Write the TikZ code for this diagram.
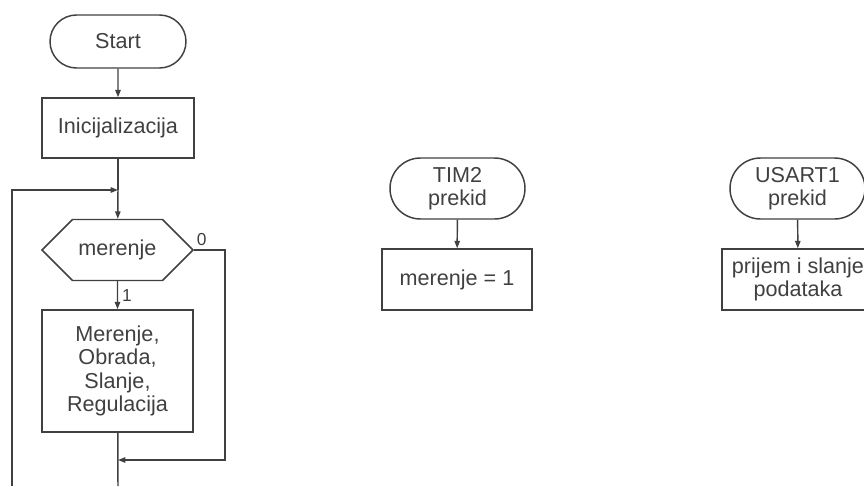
\documentclass[tikz,border=0pt]{standalone}
\usepackage{fontspec}
\setmainfont{Liberation Sans}
\usetikzlibrary{shapes.misc,shapes.symbols,arrows.meta}
\definecolor{ink}{gray}{0.25}
\tikzset{%
  every node/.style = {font=\fontsize{16.2}{17.4}\selectfont, text=ink, inner sep=0pt},%
  term/.style     = {rounded rectangle, draw=ink, line width=1.1pt, align=center},%
  proc/.style     = {rectangle, draw=ink, line width=1.1pt, align=center},%
  test/.style     = {signal, signal to=east and west, signal pointer angle=90,%
                     draw=ink, line width=1.1pt},%
  flow/.style     = {draw=ink, line width=1.1pt, -{Triangle[length=5.5pt,width=4pt]}},%
  line/.style     = {draw=ink, line width=1.1pt},%
  branch/.style   = {font=\fontsize{13}{14}\selectfont}%
}

\begin{document}
\begin{tikzpicture}[x=0.75pt,y=-0.75pt]
	\clip (0,0) rectangle (864,486);
	% main loop
	\node[term, minimum width=102pt, minimum height=39.75pt] (start) at (118,41.5) {Start};
	\node[proc, minimum width=114pt, minimum height=45pt] (init) at (118,128) {Inicijalizacija};
	\node[test, minimum width=113.25pt, minimum height=45.75pt] (merenje) at (117.5,250) {merenje};
	\node[proc, minimum width=113.25pt, minimum height=91.5pt] (obrada) at (117.5,371)
		{Merenje,\\Obrada,\\Slanje,\\Regulacija};
	\coordinate (join) at (118,190);
	\coordinate (back) at (118,460);
	\coordinate (exit) at (118,486);
	\coordinate (loopbot) at (12,486);
	\draw[flow] (start) -- (init);
	\draw[line] (init) -- (join);
	\draw[flow] (join) -- (merenje);
	\draw[flow] (loopbot) |- (join);
	\draw[flow] (merenje.east) -- node[branch, above, pos=0.25, yshift=3pt] {0} ++(31,0) |- (back);
	\draw[flow] (merenje) -- node[branch, right, xshift=3pt] {1} (obrada);
	\draw[line] (obrada) -- (exit);
	% timer interrupt
	\node[term, minimum width=101.25pt, minimum height=45.75pt] (tim) at (457.5,188.5) {TIM2\\prekid};
	\node[proc, minimum width=112.5pt, minimum height=45.75pt] (timset) at (457,279.5) {merenje = 1};
	\draw[flow] (tim) -- (timset);
	% usart interrupt
	\node[term, minimum width=101.25pt, minimum height=45.75pt] (usart) at (797.5,188.5) {USART1\\prekid};
	\node[proc, minimum width=114pt, minimum height=45.75pt] (usartio) at (798,279.5) {prijem i slanje\\podataka};
	\draw[flow] (usart) -- (usartio);
\end{tikzpicture}
\end{document}
